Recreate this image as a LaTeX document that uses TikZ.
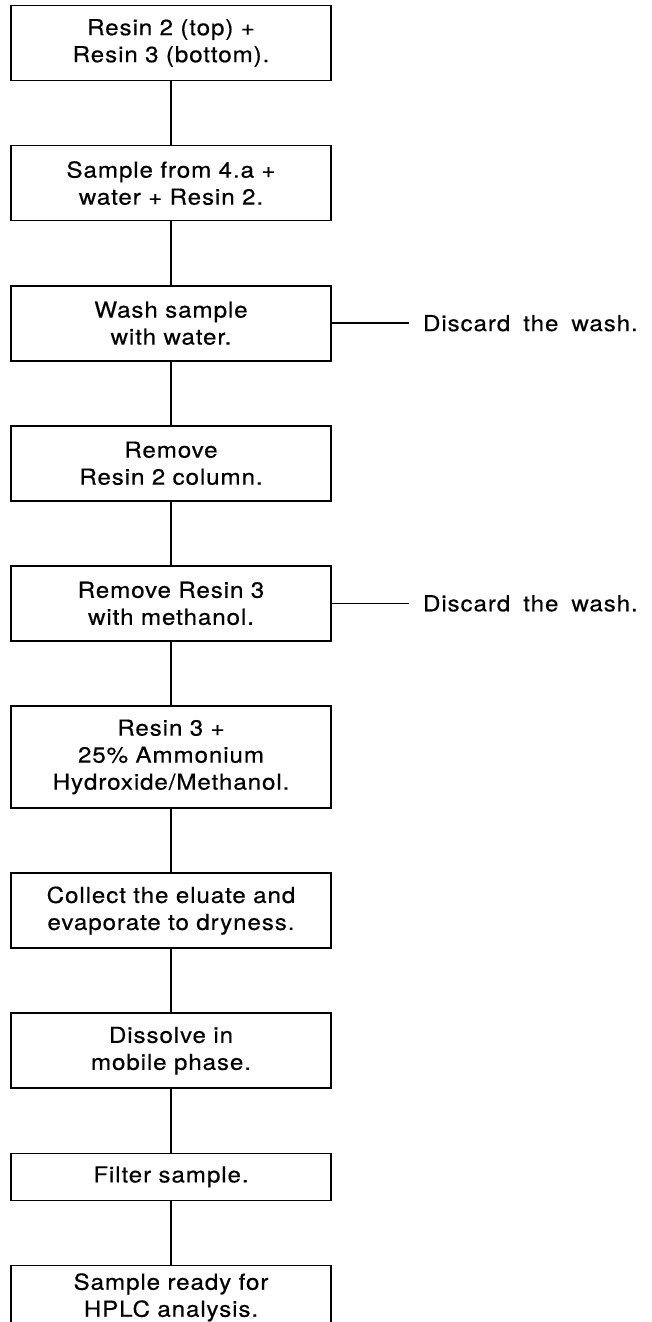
\documentclass[tikz,border=0pt]{standalone}
\usepackage{fontspec}
\setmainfont{TeX Gyre Heros}[LetterSpace=4, WordSpace=1.7, FakeStretch=1.1, FakeBold=0.4]
\usetikzlibrary{positioning}

\tikzset{
    link/.style={
        line width=1.6pt,
        draw=black
    }
}

\begin{document}
\begin{tikzpicture}[
    x=1pt, y=1pt,
    node distance=63.5pt and 77pt,
    step_box/.style={rectangle, draw, line width=1.6pt, text width=300pt, inner xsep=10pt, inner ysep=0pt, minimum height=#1, align=center, font=\fontsize{22}{27}\selectfont},
    step_box/.default=75pt,
    side_text/.style={anchor=west, inner xsep=14pt, font=\fontsize{22}{27}\selectfont}
]
    \useasboundingbox (0,0) rectangle (652,-1322);

    % Steps
    \node (s1) [step_box] at (171,-43) {Resin 2 (top) +\\Resin 3 (bottom).};
    \node (s2) [step_box, below=of s1] {Sample from 4.a +\\water + Resin 2.};
    \node (s3) [step_box, below=of s2] {Wash sample\\with water.};
    \node (s4) [step_box, below=of s3] {Remove\\Resin 2 column.};
    \node (s5) [step_box, below=of s4] {Remove Resin 3\\with methanol.};
    \node (s6) [step_box=102pt, below=of s5] {Resin 3 +\\25\% Ammonium\\Hydroxide/Methanol.};
    \node (s7) [step_box, below=of s6] {Collect the eluate and\\evaporate to dryness.};
    \node (s8) [step_box, below=of s7] {Dissolve in\\mobile phase.};
    \node (s9) [step_box=47pt, below=of s8] {Filter sample.};
    \node (s10) [step_box=64pt, below=of s9] {Sample ready for\\HPLC analysis.};

    % Side notes
    \node (d1) [side_text, right=of s3] {Discard the wash.};
    \node (d2) [side_text, right=of s5] {Discard the wash.};

    % Links
    \foreach \a/\b in {s1/s2, s2/s3, s3/s4, s4/s5, s5/s6, s6/s7, s7/s8, s8/s9, s9/s10}
        \draw [link] (\a) -- (\b);
    \draw [link] (s3) -- (d1);
    \draw [link] (s5) -- (d2);

\end{tikzpicture}
\end{document}
